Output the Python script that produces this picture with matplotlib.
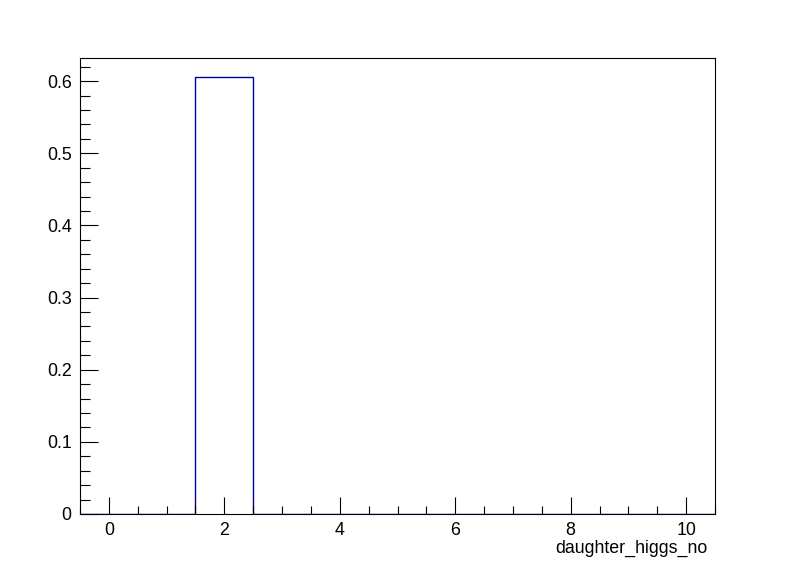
import numpy as np
import matplotlib.pyplot as plt
from matplotlib.ticker import MultipleLocator

plt.rcParams['font.family'] = ['Liberation Sans', 'DejaVu Sans']

# histogram of daughter_higgs_no, 11 unit bins from -0.5 to 10.5
bin_edges = np.arange(-0.5, 11.0, 1.0)
counts = [0, 0, 0.605, 0, 0, 0, 0, 0, 0, 0, 0]

fig = plt.figure(figsize=(7.96, 5.72), dpi=100)
ax = fig.add_axes([80 / 796, 58 / 572, 635 / 796, 456 / 572])

ax.stairs(counts, bin_edges, color='#000099', linewidth=1.0)

ax.set_xlim(-0.5, 10.5)
ax.set_ylim(0, 0.632)

ax.xaxis.set_major_locator(MultipleLocator(2))
ax.xaxis.set_minor_locator(MultipleLocator(0.5))
ax.yaxis.set_major_locator(MultipleLocator(0.1))
ax.yaxis.set_minor_locator(MultipleLocator(0.02))

ax.tick_params(which='both', direction='in', top=False, right=False, labelsize=12.8, width=0.8)
ax.tick_params(axis='x', which='major', length=12, pad=6)
ax.tick_params(axis='x', which='minor', length=6)
ax.tick_params(axis='y', which='major', length=13, pad=6)
ax.tick_params(axis='y', which='minor', length=7)
ax.yaxis.set_major_formatter(plt.FuncFormatter(lambda v, p: '0' if v == 0 else f'{v:g}'))

for s in ax.spines.values():
    s.set_linewidth(0.8)

fig.text(707 / 796, 1 - 548 / 572, 'daughter_higgs_no', ha='right', va='center', fontsize=12.8)

fig.savefig('out.png', dpi=100)
